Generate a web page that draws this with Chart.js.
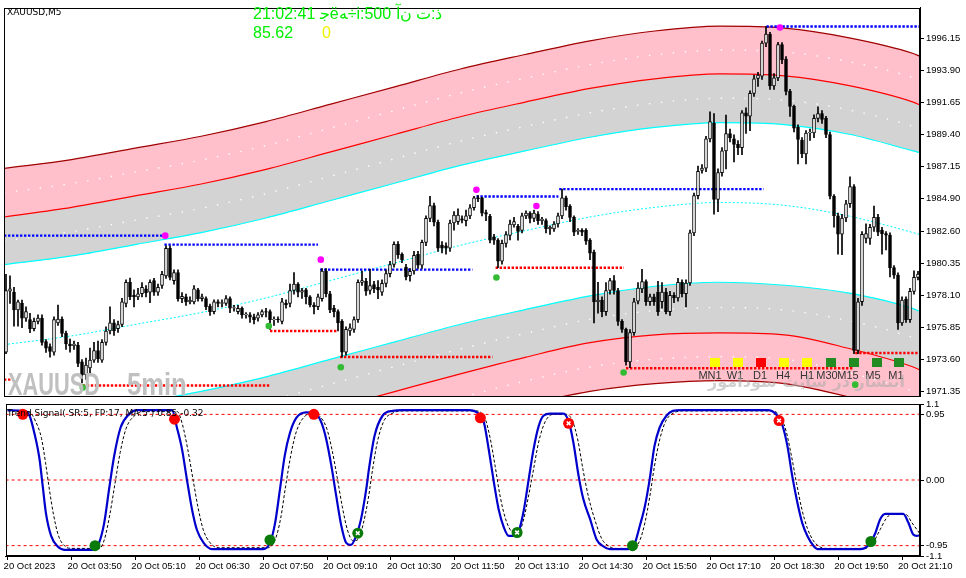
<!DOCTYPE html>
<html><head><meta charset="utf-8">
<script src="https://cdn.jsdelivr.net/npm/chart.js@4.4.1/dist/chart.umd.min.js"></script>
<style>
html,body{margin:0;padding:0;background:#fff;}
body{width:966px;height:578px;position:relative;overflow:hidden;}
canvas{position:absolute;left:0;}
#main{top:0;}
#ind{top:393px;}
.t{position:absolute;white-space:nowrap;line-height:1;}
.sq{position:absolute;width:10px;height:9px;top:358px;}
.lb{position:absolute;width:30px;text-align:center;top:369px;font:11px 'Liberation Sans',Arial,sans-serif;color:#333;}
</style></head><body>
<canvas id="main" width="966" height="404"></canvas>
<canvas id="ind" width="966" height="185"></canvas>

<div class="t" style="left:7px;top:7px;font:9px 'DejaVu Sans',sans-serif;color:#000">XAUUSD,M5</div>
<div class="t" style="left:253px;top:4px;font:16px 'Liberation Sans',Arial,sans-serif;color:#00ee00;unicode-bidi:bidi-override;direction:ltr">21:02:41 ﺟëﻪ÷i:500 ﺁﻥ ﺕ:ﺫ</div>
<div class="t" style="left:253px;top:24px;font:16px 'Liberation Sans',Arial,sans-serif;color:#00ee00">85.62</div>
<div class="t" style="left:322px;top:24px;font:16px 'Liberation Sans',Arial,sans-serif;color:#f2f200">0</div>

<div class="t" style="left:8px;top:366px;font:bold 32px 'Liberation Sans',Arial,sans-serif;color:#c0c0c0;transform:scaleX(0.68);transform-origin:0 0">XAUUSD</div>
<div class="t" style="left:127px;top:366px;font:bold 32px 'Liberation Sans',Arial,sans-serif;color:#c0c0c0;transform:scaleX(0.8);transform-origin:0 0">5min</div>

<div class="sq" style="left:710px;background:#ffff00"></div>
<div class="sq" style="left:733px;background:#ffff00"></div>
<div class="sq" style="left:756px;background:#ff0000"></div>
<div class="sq" style="left:779px;background:#ffff00"></div>
<div class="sq" style="left:802px;background:#ffff00"></div>
<div class="sq" style="left:826px;background:#228b22"></div>
<div class="sq" style="left:849px;background:#228b22"></div>
<div class="sq" style="left:872px;background:#228b22"></div>
<div class="sq" style="left:894px;background:#228b22"></div>
<div class="lb" style="left:695px">MN1</div>
<div class="lb" style="left:720px">W1</div>
<div class="lb" style="left:745px">D1</div>
<div class="lb" style="left:768px">H4</div>
<div class="lb" style="left:792px">H1</div>
<div class="lb" style="left:812px">M30</div>
<div class="lb" style="left:833px">M15</div>
<div class="lb" style="left:858px">M5</div>
<div class="lb" style="left:881px">M1</div>
<div class="t" style="left:700px;top:372px;width:205px;text-align:right;direction:rtl;font:bold 16px 'DejaVu Sans',sans-serif;color:rgba(170,170,170,0.55)">انتشار در سایت سودآموز</div>

<div class="t" style="left:7px;top:408px;font:9px 'DejaVu Sans',sans-serif;color:#000">Trend Signal( SR:5, FP:17, MA:5 ) 0.85 -0.32</div>

<script>
// ---------- time axis ----------
const timeLabels = ['20 Oct 2023','20 Oct 03:50','20 Oct 05:10','20 Oct 06:30','20 Oct 07:50','20 Oct 09:10','20 Oct 10:30','20 Oct 11:50','20 Oct 13:10','20 Oct 14:30','20 Oct 15:50','20 Oct 17:10','20 Oct 18:30','20 Oct 19:50','20 Oct 21:10'];
const timeIdx = [0,16,32,48,64,80,96,112,128,144,160,176,192,208,224];

// ---------- candles (XAUUSD M5) ----------
const openP = [
1974.11,1978.41,1978.34,1977.08,1977.54,1976.51,1976.40,1975.76,1976.28,1976.51,
1974.85,1974.50,1974.11,1976.17,1976.44,1975.44,1974.69,1974.57,1974.62,1973.43,
1972.52,1973.00,1973.55,1974.23,1973.55,1974.80,1975.60,1976.17,1975.76,1976.06,
1977.54,1979.02,1978.11,1978.00,1978.22,1978.57,1978.34,1979.14,1978.34,1978.80,
1979.48,1981.42,1979.14,1979.71,1977.88,1978.00,1977.65,1977.65,1978.50,1977.88,
1977.88,1977.36,1976.97,1977.65,1977.54,1977.54,1977.88,1977.20,1976.97,1977.20,
1976.74,1976.74,1976.60,1976.51,1976.74,1976.97,1976.97,1976.40,1976.44,1976.28,
1977.54,1977.54,1978.45,1978.91,1978.34,1978.50,1978.00,1977.43,1977.31,1977.88,
1979.82,1978.22,1977.20,1976.97,1976.28,1974.11,1975.60,1975.72,1976.40,1979.02,
1979.10,1978.45,1978.86,1978.68,1978.34,1978.95,1979.64,1980.28,1981.70,1981.00,
1980.10,1979.50,1979.82,1981.00,1980.23,1981.83,1983.52,1984.43,1983.25,1981.65,
1981.60,1981.42,1983.20,1983.30,1983.50,1983.36,1983.70,1984.27,1984.96,1984.96,
1983.93,1983.66,1982.22,1981.99,1980.51,1981.76,1982.33,1983.07,1982.97,1982.68,
1983.70,1983.89,1983.52,1983.82,1983.36,1983.36,1982.79,1982.79,1983.13,1983.70,
1984.96,1984.39,1983.59,1982.60,1982.68,1982.68,1981.99,1981.15,1977.65,1977.77,
1976.97,1978.45,1979.14,1978.45,1976.28,1975.72,1973.43,1975.49,1977.70,1978.57,
1979.07,1977.66,1978.00,1978.34,1977.66,1978.34,1976.97,1978.11,1977.93,1979.03,
1978.23,1978.98,1982.50,1985.12,1986.90,1987.06,1989.12,1990.22,1984.85,1986.74,
1988.27,1989.48,1989.12,1988.73,1988.50,1990.95,1990.72,1992.31,1993.37,
1993.52,1995.85,1996.49,1992.84,1993.41,1995.74,1994.73,1992.45,1991.40,1989.94,
1989.03,1988.05,1989.53,1989.53,1990.56,1990.90,1990.56,1989.42,1985.08,1983.71,
1982.41,1983.55,1984.55,1985.76,1974.23,1977.66,1982.11,1982.11,1982.90,1983.59,
1982.68,1982.45,1982.34,1980.06,1979.53,1976.17,1977.84,1976.40,1978.39,1979.37];
const highP = [
1979.59,1979.48,1978.68,1977.77,1977.77,1977.31,1976.85,1976.51,1976.74,1976.74,
1975.00,1974.70,1976.60,1977.43,1976.60,1975.60,1975.03,1974.90,1974.80,1973.60,
1973.70,1974.40,1974.80,1974.90,1975.00,1975.90,1977.31,1976.40,1976.30,1977.90,
1979.20,1979.32,1978.50,1978.60,1979.00,1978.80,1979.20,1979.30,1978.90,1979.80,
1981.60,1981.60,1979.90,1979.90,1978.30,1978.20,1978.00,1978.80,1978.60,1978.20,
1978.00,1977.50,1977.80,1977.80,1977.80,1978.10,1978.00,1977.40,1977.40,1977.30,
1976.90,1976.90,1976.80,1976.90,1977.10,1977.20,1977.10,1976.60,1976.60,1977.90,
1977.80,1978.90,1979.71,1979.00,1978.60,1978.60,1978.10,1977.60,1978.20,1980.00,
1980.00,1978.40,1977.40,1977.10,1976.40,1975.90,1976.10,1976.60,1979.20,1979.82,
1979.30,1979.94,1979.10,1979.14,1979.20,1979.90,1980.50,1981.88,1981.90,1981.10,
1980.30,1980.00,1981.20,1981.20,1982.00,1983.70,1985.07,1984.60,1983.40,1981.90,
1981.80,1983.40,1984.00,1984.20,1983.70,1984.10,1984.50,1985.07,1985.12,1985.00,
1984.10,1983.80,1982.40,1982.10,1982.00,1982.60,1983.40,1983.60,1983.10,1983.90,
1984.05,1984.00,1984.10,1984.00,1983.60,1983.50,1983.00,1983.30,1983.90,1985.58,
1985.10,1984.50,1983.70,1982.80,1982.80,1982.80,1982.10,1981.30,1979.02,1978.00,
1979.00,1979.30,1979.50,1978.60,1976.40,1975.80,1975.70,1977.90,1979.00,1979.94,
1979.20,1978.20,1978.20,1979.10,1979.00,1978.60,1978.40,1978.30,1979.30,1979.20,
1979.20,1982.70,1985.30,1987.20,1987.30,1989.30,1991.01,1990.90,1987.00,1988.50,
1990.79,1989.80,1989.40,1989.00,1991.10,1991.30,1992.50,1993.60,1993.80,
1996.00,1997.02,1996.60,1993.70,1995.90,1995.88,1994.90,1992.60,1991.50,1990.10,
1989.20,1989.70,1989.80,1990.80,1991.36,1991.10,1990.70,1989.60,1985.20,1983.90,
1983.80,1984.80,1986.45,1985.90,1977.90,1982.60,1983.14,1983.10,1984.39,1983.80,
1982.90,1982.60,1982.50,1980.20,1979.70,1978.00,1978.00,1978.60,1979.83,1979.80];
const lowP = [
1974.00,1977.54,1975.94,1975.94,1975.83,1976.28,1975.49,1975.60,1976.10,1974.60,
1974.10,1973.77,1973.90,1976.00,1975.20,1974.30,1974.11,1974.30,1973.10,1971.95,
1972.20,1972.60,1973.40,1973.40,1973.40,1974.60,1975.40,1975.30,1975.50,1975.90,
1977.30,1977.80,1977.30,1977.80,1978.00,1978.00,1977.60,1978.10,1978.10,1978.60,
1979.30,1979.20,1978.90,1977.70,1977.60,1977.40,1977.50,1977.50,1977.70,1977.70,
1977.10,1976.70,1976.80,1977.30,1977.30,1977.40,1976.90,1977.00,1976.80,1976.50,
1976.50,1976.20,1976.10,1976.30,1976.60,1976.60,1975.72,1976.00,1976.20,1976.10,
1977.20,1977.30,1978.20,1978.00,1977.90,1977.50,1977.30,1976.80,1977.10,1977.70,
1978.00,1976.90,1976.60,1975.60,1973.77,1973.90,1975.30,1975.50,1976.20,1978.80,
1978.10,1978.20,1978.30,1977.88,1978.10,1978.70,1979.40,1980.10,1980.70,1980.40,
1979.20,1979.10,1979.60,1980.00,1980.00,1981.60,1983.30,1983.00,1981.20,1981.10,
1981.00,1981.20,1982.70,1983.10,1983.20,1983.00,1983.50,1984.10,1984.70,1983.70,
1983.36,1981.80,1981.70,1980.05,1980.30,1981.50,1982.00,1982.90,1981.99,1982.50,
1983.50,1983.20,1983.30,1983.10,1983.10,1982.50,1982.40,1982.60,1982.90,1983.50,
1984.10,1983.30,1982.30,1982.40,1982.30,1981.70,1980.62,1976.17,1976.86,1976.60,
1976.70,1978.20,1978.20,1976.00,1975.50,1973.20,1973.02,1975.30,1977.50,1978.30,
1977.40,1977.40,1977.40,1976.70,1977.20,1976.80,1976.70,1977.60,1977.70,1978.00,
1977.30,1978.80,1982.30,1984.90,1986.70,1986.80,1988.90,1983.82,1984.00,1986.50,
1987.00,1988.90,1987.50,1988.00,1988.00,1989.50,1989.70,1992.10,1992.80,
1993.30,1995.60,1992.60,1992.60,1993.20,1994.40,1992.20,1990.70,1989.60,1987.36,
1987.80,1987.36,1989.00,1989.20,1990.30,1990.20,1989.20,1984.90,1982.90,1981.00,
1980.97,1983.30,1984.30,1974.00,1974.00,1977.40,1981.80,1981.70,1982.60,1982.30,
1981.00,1981.30,1979.40,1979.30,1975.72,1976.00,1976.20,1976.20,1978.20,1979.20];
const closeP = [
1978.45,1978.57,1977.08,1977.65,1976.51,1976.97,1975.76,1976.28,1976.51,1974.80,
1974.39,1974.16,1976.40,1976.44,1975.44,1974.69,1974.57,1974.69,1973.32,1972.52,
1973.20,1973.55,1974.23,1973.66,1974.80,1975.60,1976.17,1975.60,1976.06,1977.65,
1979.02,1978.00,1978.00,1978.22,1978.68,1978.30,1979.02,1978.34,1978.68,1979.59,
1981.42,1979.37,1979.71,1977.88,1978.04,1977.65,1977.77,1978.57,1977.88,1978.00,
1977.31,1976.97,1977.65,1977.54,1977.60,1977.88,1977.20,1977.25,1977.20,1976.74,
1976.80,1976.58,1976.40,1976.74,1976.97,1976.92,1976.40,1976.44,1976.40,1977.65,
1977.43,1978.45,1978.91,1978.34,1978.45,1978.00,1977.43,1977.30,1978.00,1979.82,
1978.22,1977.08,1976.97,1976.17,1974.11,1975.72,1975.83,1976.40,1979.02,1979.14,
1978.40,1978.80,1978.57,1978.50,1978.95,1979.64,1980.28,1981.70,1980.96,1980.62,
1979.41,1979.80,1980.92,1980.23,1981.83,1983.52,1984.43,1983.25,1981.42,1981.42,
1981.42,1983.20,1983.75,1983.75,1983.40,1983.70,1984.27,1984.96,1984.90,1983.89,
1983.82,1981.99,1981.99,1980.51,1981.76,1982.38,1983.13,1983.29,1982.61,1983.70,
1983.89,1983.52,1983.89,1983.36,1983.48,1982.79,1982.90,1983.13,1983.70,1984.96,
1984.34,1983.59,1982.56,1982.68,1982.56,1981.92,1981.08,1977.65,1977.77,1976.97,
1978.45,1979.14,1978.45,1976.28,1975.72,1973.43,1975.49,1977.65,1978.62,1979.07,
1977.66,1978.00,1977.66,1976.97,1978.34,1976.97,1978.11,1977.93,1979.03,1978.23,
1978.98,1982.50,1985.12,1986.83,1987.06,1989.12,1990.33,1984.85,1986.74,1988.27,
1989.48,1989.19,1988.73,1988.50,1990.95,1990.72,1992.31,1993.34,1993.60,
1995.85,1996.49,1992.84,1993.41,1995.74,1994.67,1992.45,1991.40,1989.87,1989.07,
1988.05,1989.53,1989.58,1990.56,1990.90,1990.49,1989.42,1985.08,1983.71,1982.41,
1983.55,1984.55,1985.76,1974.23,1977.66,1982.41,1982.45,1982.90,1983.59,1982.56,
1982.45,1982.34,1980.06,1979.53,1976.17,1977.77,1976.40,1978.39,1979.37,1979.60];

// ---------- price axis ----------
const priceMin = 1971.01, priceMax = 1998.34;
const priceTicks = [1996.15,1993.90,1991.65,1989.40,1987.15,1984.90,1982.60,1980.35,1978.10,1975.85,1973.60,1971.35];
const priceTickLabels = ['1996.15','1993.90','1991.65','1989.40','1987.15','1984.90','1982.60','1980.35','1978.10','1975.85','1973.60','1971.35'];

// ---------- channel bands (read at these bar positions) ----------
const bandIdx = [-0.5,16.4,32.6,48.8,65,81.2,97.4,113.6,129.8,146,162.2,178.4,194.6,210.8,226.8,228.5];
const upDark = [1987.04,1987.66,1988.48,1989.30,1990.33,1991.56,1992.79,1994.03,1995.05,1996.01,1996.70,1997.04,1996.90,1996.22,1995.12,1994.92];
const upPinkDots = [1985.33,1985.98,1986.80,1987.62,1988.65,1989.88,1991.12,1992.35,1993.38,1994.34,1995.02,1995.36,1995.23,1994.54,1993.41,1993.21];
const upRed  = [1983.62,1984.30,1985.12,1985.94,1986.97,1988.20,1989.44,1990.67,1991.70,1992.66,1993.34,1993.68,1993.55,1992.86,1991.70,1991.49];
const upGrayDots = [1981.94,1982.59,1983.41,1984.23,1985.26,1986.49,1987.73,1988.96,1989.99,1990.95,1991.63,1991.97,1991.84,1991.15,1989.99,1989.82];
const upCyan = [1980.26,1980.88,1981.70,1982.52,1983.55,1984.78,1986.01,1987.25,1988.27,1989.23,1989.92,1990.26,1990.12,1989.44,1988.27,1988.14];
const midLine= [1974.64,1975.26,1976.08,1976.90,1977.93,1979.16,1980.40,1981.63,1982.66,1983.62,1984.30,1984.64,1984.44,1983.68,1982.52,1982.38];
const loCyan = [1969.10,1969.71,1970.53,1971.36,1972.38,1973.62,1974.85,1976.08,1977.11,1978.07,1978.75,1979.03,1978.82,1978.27,1977.18,1976.97];
const loGrayDots = [1967.35,1967.96,1968.77,1969.61,1970.64,1971.87,1973.11,1974.34,1975.43,1976.43,1977.04,1977.25,1977.08,1976.32,1975.13,1974.92];
const loRed  = [1965.60,1966.20,1967.00,1967.86,1968.89,1970.12,1971.36,1972.59,1973.75,1974.78,1975.33,1975.47,1975.33,1974.37,1973.07,1972.86];
const loPinkDots = [1963.93,1964.53,1965.34,1966.18,1967.21,1968.45,1969.68,1970.91,1972.08,1973.07,1973.62,1973.79,1973.62,1972.66,1971.36,1971.15];
const loDark = [1962.25,1962.86,1963.68,1964.50,1965.53,1966.77,1968.00,1969.23,1970.40,1971.36,1971.90,1972.11,1971.90,1970.95,1969.64,1969.44];

// ---------- support / resistance ----------
const resStart = [-0.5,39.6,78.5,117.6,138.3,190.1];
const resEnd   = [39.6,78.0,116.6,138.1,189.4,228.5];
const resLevel = [1982.31,1981.68,1979.92,1985.06,1985.58,1997.02];
const supStart = [-0.5,19.2,66.0,83.5,122.4,155.0,212.3];
const supEnd   = [1.7,66.0,82.7,121.6,154.5,212.0,228.5];
const supLevel = [1972.18,1971.77,1975.60,1973.77,1980.05,1972.98,1974.05];
const swingHighIdx = [39.8,78.7,117.6,132.6,193.5];
const swingHighVal = [1982.31,1980.62,1985.53,1984.39,1996.95];
const swingLowIdx = [19.2,65.7,83.7,122.6,154.4,212.3];
const swingLowVal = [1971.63,1975.95,1973.05,1979.37,1972.68,1971.83];

// ---------- Trend Signal indicator ----------
const sigIdx = [0,4.2,5.5,6.7,8.0,8.8,9.6,10.9,12.5,14.2,21.7,22.9,24.2,25.4,26.7,28.3,30.4,32.5,41.2,42.4,43.7,44.9,46.2,47.4,49.1,51.2,64.0,65.7,67.0,68.2,69.4,70.7,72.3,74.8,76.9,78.6,79.8,81.1,82.3,83.6,84.8,86.0,87.3,88.5,89.8,90.6,91.9,93.9,96.4,98.9,115.5,118.1,119.3,120.5,121.8,123.0,124.3,125.5,126.8,128.0,129.3,130.5,131.7,133.0,134.2,135.9,139.2,140.6,141.7,143.0,144.2,145.9,147.5,149.2,150.8,155.4,157.1,158.3,159.6,160.8,162.0,163.3,165.0,166.6,168.7,190.3,192.8,194.0,195.3,196.5,197.8,199.0,200.3,201.9,202.8,213.6,215.6,217.3,218.5,219.8,224.3,225.6,226.8,227.7,228.5];
const sigVal = [1.01,1.0,0.93,0.68,0.30,-0.09,-0.48,-0.81,-0.96,-1.01,-1.01,-0.91,-0.62,-0.14,0.35,0.76,0.95,1.01,1.01,0.76,0.44,0.01,-0.43,-0.72,-0.91,-1.0,-1.0,-0.91,-0.62,-0.14,0.35,0.68,0.90,0.98,0.97,0.83,0.59,0.20,-0.23,-0.67,-0.91,-0.94,-0.81,-0.57,-0.14,0.20,0.64,0.93,1.0,1.01,1.01,0.95,0.83,0.44,-0.04,-0.43,-0.69,-0.81,-0.81,-0.74,-0.43,0.01,0.44,0.78,0.93,0.96,0.96,0.83,0.54,0.06,-0.28,-0.57,-0.86,-0.96,-1.0,-1.0,-0.91,-0.67,-0.38,0.01,0.49,0.76,0.93,1.0,1.01,1.01,0.93,0.80,0.49,0.06,-0.33,-0.62,-0.81,-0.96,-1.0,-1.0,-0.94,-0.77,-0.57,-0.49,-0.49,-0.62,-0.79,-0.81,-0.80];
const sig2Idx = [0,5.5,7,8.5,9.5,10.5,11.5,12.7,14.2,16,23,24.3,25.6,26.9,28.2,29.7,31.8,34,42.5,43.8,45.1,46.4,47.7,49,50.6,52.7,65.3,67.1,68.4,69.6,70.9,72.2,73.8,76.5,78.2,79.9,81.2,82.5,83.8,85.1,86.5,87.8,89,90.3,91.4,92.6,94.2,96.5,99,117,119.5,120.8,122.1,123.4,124.8,126.3,127.8,129.1,130.4,131.7,133,134.6,136.6,140,141.5,142.8,144.1,145.5,147.2,148.8,150.6,152.5,156.5,158.3,159.6,160.8,162,163.3,164.8,166.8,169,191.5,193.7,195,196.3,197.6,198.9,200.3,201.8,203.5,205,214.8,216.8,218.5,220,221.3,225,226.5,228.5];
const sig2Val = [1.0,0.98,0.85,0.6,0.25,-0.15,-0.5,-0.8,-0.95,-0.99,-0.99,-0.85,-0.5,-0.05,0.4,0.75,0.93,0.99,0.99,0.8,0.45,0.02,-0.4,-0.72,-0.9,-0.98,-0.98,-0.85,-0.55,-0.1,0.35,0.68,0.88,0.97,0.92,0.75,0.45,0.05,-0.38,-0.72,-0.88,-0.86,-0.65,-0.28,0.15,0.55,0.85,0.97,1.0,1.0,0.9,0.62,0.2,-0.25,-0.58,-0.75,-0.78,-0.6,-0.25,0.15,0.55,0.84,0.95,0.95,0.85,0.58,0.15,-0.25,-0.6,-0.85,-0.96,-0.99,-0.99,-0.88,-0.62,-0.25,0.2,0.58,0.85,0.97,1.0,1.0,0.9,0.7,0.35,-0.05,-0.42,-0.7,-0.88,-0.97,-0.99,-0.99,-0.9,-0.72,-0.56,-0.5,-0.5,-0.62,-0.78];
const sellIdx = [3.8,41.8,76.7,118.4,140.5,193.2];
const sellVal = [0.95,0.88,0.95,0.90,0.82,0.86];
const sellCross = [false,false,false,false,true,true];
const buyIdx = [21.9,65.7,87.7,127.6,156.5,216.2];
const buyVal = [-0.95,-0.87,-0.77,-0.76,-0.95,-0.89];
const buyCross = [false,false,true,true,false,false];
const indLevels = [0.95,0,-0.95];
const indTicks = [1.1,0.95,0,-0.95,-1.1];
const indTickLabels = ['1.1','0.95','0.00','-0.95','-1.1'];

// ---------- build ----------
Chart.defaults.font.family = "'Liberation Sans', Arial, sans-serif";
Chart.defaults.color = '#000';
const N = openP.length;
const xMin = -0.5, xMax = N - 0.5;
const pts = (idx, vals) => idx.map((x, k) => ({x: x, y: vals[k]}));

const framePlugin = {
  id: 'frame',
  afterDatasetsDraw(chart) {
    const {ctx, chartArea: a} = chart;
    ctx.save();
    ctx.strokeStyle = '#000'; ctx.lineWidth = 1;
    ctx.strokeRect(Math.round(a.left) + 0.5, Math.round(a.top) + 0.5, Math.round(a.right - a.left) - 1, Math.round(a.bottom - a.top) - 1);
    ctx.restore();
  }
};

const bandLine = (data, color, fill, order, extra) => Object.assign({
  type: 'line', data: data, borderColor: color, borderWidth: 1.2, pointRadius: 0,
  cubicInterpolationMode: 'monotone', fill: fill, order: order
}, extra || {});
const dotsStyle = {borderWidth: 1.4, borderDash: [1.4, 10.6], borderCapStyle: 'butt'};

const mainDatasets = [
  {type: 'bar', data: openP.map((o, i) => ({x: i, y: [o, closeP[i]]})),
   backgroundColor: openP.map((o, i) => closeP[i] >= o ? '#ffffff' : '#000000'),
   borderColor: '#000', borderWidth: 1, borderSkipped: false, barThickness: 3, grouped: false, order: 1},
  {type: 'bar', data: lowP.map((l, i) => ({x: i, y: [l, highP[i]]})),
   backgroundColor: '#000', borderWidth: 0, barThickness: 1, grouped: false, order: 2},
  bandLine(pts(bandIdx, upDark), '#a00000', {target: '+1'}, 20, {backgroundColor: '#ffc0cb'}),
  bandLine(pts(bandIdx, upRed), '#ff0000', {target: '+1'}, 20, {backgroundColor: '#d3d3d3'}),
  bandLine(pts(bandIdx, upCyan), '#00ffff', false, 20),
  bandLine(pts(bandIdx, loCyan), '#00ffff', {target: '+1'}, 20, {backgroundColor: '#d3d3d3'}),
  bandLine(pts(bandIdx, loRed), '#ff0000', {target: '+1'}, 20, {backgroundColor: '#ffc0cb'}),
  bandLine(pts(bandIdx, loDark), '#a00000', false, 20),
  bandLine(pts(bandIdx, midLine), '#00ffff', false, 19, {borderDash: [2, 2], borderWidth: 1}),
  bandLine(pts(bandIdx, upPinkDots), '#ffffff', false, 21, dotsStyle),
  bandLine(pts(bandIdx, upGrayDots), '#ffffff', false, 21, dotsStyle),
  bandLine(pts(bandIdx, loGrayDots), '#ffffff', false, 21, dotsStyle),
  bandLine(pts(bandIdx, loPinkDots), '#ffffff', false, 21, dotsStyle),
];
resLevel.forEach((lv, k) => mainDatasets.push({type: 'line', data: [{x: resStart[k], y: lv}, {x: resEnd[k], y: lv}],
  borderColor: '#0000ff', borderWidth: 2.4, borderDash: [2.4, 1.6], pointRadius: 0, fill: false, order: 5}));
supLevel.forEach((lv, k) => mainDatasets.push({type: 'line', data: [{x: supStart[k], y: lv}, {x: supEnd[k], y: lv}],
  borderColor: '#ff0000', borderWidth: 2.4, borderDash: [2.4, 1.6], pointRadius: 0, fill: false, order: 5}));
mainDatasets.push({type: 'line', data: pts(swingHighIdx, swingHighVal), showLine: false, pointRadius: 3.3,
  pointBackgroundColor: '#ff00ff', pointBorderWidth: 0, order: 0});
mainDatasets.push({type: 'line', data: pts(swingLowIdx, swingLowVal), showLine: false, pointRadius: 3.3,
  pointBackgroundColor: '#33bb33', pointBorderWidth: 0, order: 0});

new Chart(document.getElementById('main'), {
  data: {datasets: mainDatasets},
  options: {
    responsive: false, animation: false, events: [],
    layout: {padding: {left: 1, top: 3, right: 0, bottom: 2}},
    plugins: {legend: {display: false}, tooltip: {enabled: false}, filler: {drawTime: 'beforeDatasetsDraw'}},
    scales: {
      x: {type: 'linear', min: xMin, max: xMax, offset: false, display: false},
      y: {type: 'linear', position: 'right', min: priceMin, max: priceMax,
        afterBuildTicks: s => { s.ticks = priceTicks.map(v => ({value: v})); },
        afterFit: s => { s.width = 46; },
        ticks: {autoSkip: false, padding: 2, font: {size: 9.5}, color: '#000',
          callback: (v, i) => priceTickLabels[i]},
        grid: {drawOnChartArea: false, drawTicks: true, tickLength: 4, color: '#000'},
        border: {display: true, color: '#000'}}
    }
  },
  plugins: [framePlugin]
});

// indicator
const indDatasets = [];
indDatasets.push({type: 'line', data: pts(sellIdx.filter((v, k) => sellCross[k]), sellVal.filter((v, k) => sellCross[k]))
  .concat(pts(buyIdx.filter((v, k) => buyCross[k]), buyVal.filter((v, k) => buyCross[k]))),
  showLine: false, pointStyle: 'crossRot', pointRadius: 2.6, pointBorderColor: '#fff', pointBorderWidth: 1.6, order: 0});
indDatasets.push({type: 'line', data: pts(sellIdx, sellVal), showLine: false, pointRadius: 5.5,
  pointBackgroundColor: '#ff0000', pointBorderWidth: 0, order: 1});
indDatasets.push({type: 'line', data: pts(buyIdx, buyVal), showLine: false, pointRadius: 5.5,
  pointBackgroundColor: '#0a7a0a', pointBorderWidth: 0, order: 1});
indDatasets.push({type: 'line', data: pts(sigIdx, sigVal), borderColor: '#0000cc', borderWidth: 2.2,
  pointRadius: 0, cubicInterpolationMode: 'monotone', fill: false, order: 2});
indDatasets.push({type: 'line', data: pts(sig2Idx, sig2Val), borderColor: '#000', borderWidth: 1, borderDash: [3, 2],
  pointRadius: 0, cubicInterpolationMode: 'monotone', fill: false, order: 3});
indLevels.forEach(lv => indDatasets.push({type: 'line', data: [{x: xMin, y: lv}, {x: xMax, y: lv}],
  borderColor: '#ff0000', borderWidth: 1, borderDash: [3, 3], pointRadius: 0, fill: false, order: 4}));

new Chart(document.getElementById('ind'), {
  data: {datasets: indDatasets},
  options: {
    responsive: false, animation: false, events: [],
    layout: {padding: {left: 1, top: 11, right: 0, bottom: 0}},
    plugins: {legend: {display: false}, tooltip: {enabled: false}},
    scales: {
      x: {type: 'linear', min: xMin, max: xMax, offset: false, position: 'bottom',
        afterBuildTicks: s => { s.ticks = timeIdx.map(v => ({value: v})); },
        afterFit: s => { s.height = 22; },
        ticks: {autoSkip: false, maxRotation: 0, minRotation: 0, align: 'start', padding: 1, labelOffset: -4,
          font: {size: 9.5}, color: '#000', callback: (v) => timeLabels[timeIdx.indexOf(v)]},
        grid: {drawOnChartArea: false, drawTicks: true, tickLength: 4, color: '#000'},
        border: {display: true, color: '#000'}},
      y: {type: 'linear', position: 'right', min: -1.1, max: 1.1,
        afterBuildTicks: s => { s.ticks = indTicks.map(v => ({value: v})); },
        afterFit: s => { s.width = 46; },
        ticks: {autoSkip: false, padding: 2, font: {size: 9.5}, color: '#000',
          callback: (v, i) => indTickLabels[i]},
        grid: {drawOnChartArea: false, drawTicks: true, tickLength: 4, color: '#000'},
        border: {display: true, color: '#000'}}
    }
  },
  plugins: [framePlugin]
});
</script>
</body></html>
